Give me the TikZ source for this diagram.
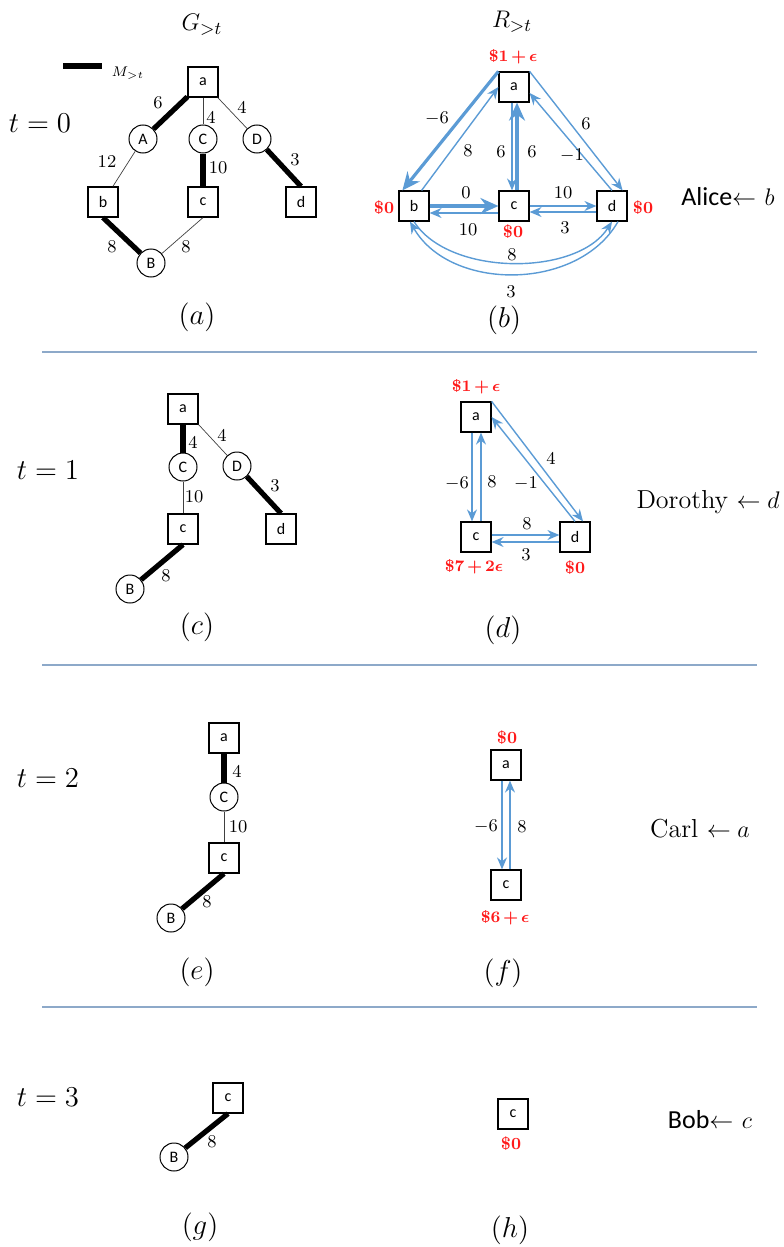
\documentclass[tikz,border=0pt]{standalone}
\usepackage{amsmath,amssymb}
\usepackage{fontspec}
\usepackage{xcolor}
\usepackage{tikz}
\usetikzlibrary{arrows.meta}
\newfontfamily\carlito{Carlito}
\definecolor{resblue}{HTML}{5B9BD5}
\definecolor{costred}{HTML}{FF1A1A}
\definecolor{rulecol}{HTML}{8DA9C9}
\newcommand{\tightplus}{\medmuskip=2.5mu\relax}
\tikzset{
  sq/.style={draw, line width=0.6pt, minimum size=15pt, inner sep=0pt, font=\carlito\fontsize{8}{9}\selectfont},
  cir/.style={circle, draw, line width=0.5pt, minimum size=14pt, inner sep=0pt, font=\carlito\fontsize{8}{9}\selectfont},
  edge/.style={draw=black!75, line width=0.35pt},
  match/.style={draw=black, line width=2.6pt},
  res/.style={draw=resblue, line width=0.7pt, -{Stealth[length=6pt,width=5pt,inset=2pt]}},
  resm/.style={draw=resblue, line width=1.6pt, -{Stealth[length=9pt,width=8pt,inset=3pt]}},
  lab/.style={font=\fontsize{9}{10}\selectfont},
  cost/.style={text=costred, font=\fontsize{8.5}{10}\selectfont\bfseries\boldmath\tightplus},
  tlab/.style={font=\fontsize{14}{16}\selectfont},
  head/.style={font=\fontsize{13}{15}\selectfont},
  sub/.style={font=\fontsize{14}{16}\selectfont},
  who/.style={font=\fontsize{13}{15}\selectfont},
  rulel/.style={draw=rulecol, line width=0.8pt},
}
\begin{document}
\begin{tikzpicture}[x=0.5pt,y=-0.5pt]
  \useasboundingbox (0,0) rectangle (783,1247);
  % headings and legend
  \node[head] (hG) at (202,25) {$G_{>t}$};
  \node[head] (hR) at (512,22) {$R_{>t}$};
  \coordinate (legL) at (63,66);
  \coordinate (legR) at (102,66);
  \draw[match, line width=3pt] (legL) -- (legR);
  \node[font=\fontsize{7}{8}\selectfont] (legM) at (128,73) {$M_{>t}$};
  \foreach \y/\n in {352/s1, 665/s2, 1007/s3} {
    \coordinate (\n L) at (42,\y);
    \coordinate (\n R) at (757,\y);
    \draw[rulel] (\n L) -- (\n R);
  }

  % t = 0
  \node[tlab] (t0) at (40,123) {$t=0$};
  \node[sq] (g0a) at (203,82) {a};
  \node[cir] (g0A) at (143,139) {A};
  \node[cir] (g0C) at (203,139) {C};
  \node[cir] (g0D) at (257,139) {D};
  \node[sq] (g0b) at (103,202) {b};
  \node[sq] (g0c) at (203,202) {c};
  \node[sq] (g0d) at (301,202) {d};
  \node[cir] (g0B) at (151,263) {B};
  \draw[match] (g0a) -- (g0A) node[lab] at (158,103) {6};
  \draw[edge] (g0a.south) -- (g0C) node[lab] at (211,117) {4};
  \draw[edge] (g0a) -- (g0D) node[lab] at (242,107) {4};
  \draw[edge] (g0A) -- (g0b) node[lab] at (107,162) {12};
  \draw[match] (g0C) -- (g0c) node[lab] at (218,168) {10};
  \draw[match] (g0D) -- (g0d.north) node[lab] at (295,160) {3};
  \draw[match] (g0b.south) -- (g0B) node[lab] at (112,247) {8};
  \draw[edge] (g0B) -- (g0c.south) node[lab] at (186,247) {8};
  \node[sub] (capa) at (197,317) {$(a)$};

  \node[sq] (r0a) at (514,87) {a};
  \node[sq] (r0b) at (414,206) {b};
  \node[sq] (r0c) at (514,206) {c};
  \node[sq] (r0d) at (612,206) {d};
  \node[cost] (p0a) at (513,57) {$\$1+\epsilon$};
  \node[cost] (p0b) at (384,208) {\$0};
  \node[cost] (p0c) at (513,232) {\$0};
  \node[cost] (p0d) at (643,208) {\$0};
  \draw[resm] (r0a.north west) -- ([xshift=2pt]r0b.north west) node[lab] at (437,119) {$-6$};
  \draw[res] ([xshift=-4pt]r0b.north east) -- (r0a.west) node[lab] at (468,151) {8};
  \draw[res] ([xshift=-1pt]r0a.south) -- ([xshift=-1pt]r0c.north) node[lab] at (501,152) {6};
  \draw[resm] ([xshift=1.5pt]r0c.north) -- ([xshift=1.5pt]r0a.south) node[lab] at (532,152) {6};
  \draw[res] (r0a.north east) -- ([xshift=-2.5pt]r0d.north east) node[lab] at (586,124) {6};
  \draw[res] (r0d.north) -- ([yshift=-3pt]r0a.east) node[lab] at (572,156) {$-1$};
  \draw[resm] (r0b.east) -- (r0c.west) node[lab] at (466,193) {0};
  \draw[res] ([yshift=-3.5pt]r0c.west) -- ([yshift=-3.5pt]r0b.east) node[lab] at (468,230) {10};
  \draw[res] (r0c.east) -- (r0d.west) node[lab] at (563,193) {10};
  \draw[res] ([yshift=-3pt]r0d.west) -- ([yshift=-3pt]r0c.east) node[lab] at (565,228) {3};
  \draw[res] (r0b.south) .. controls +(35,55) and +(-35,55) .. (r0d.south) node[lab] at (512,255) {8};
  \draw[res] ([xshift=3pt]r0d.south) .. controls +(-40,70) and +(40,70) .. ([xshift=-2pt]r0b.south) node[lab] at (511,292) {3};
  \node[sub] (capb) at (504,320) {$(b)$};
  \node[who] (who0) at (728,197) {{\carlito Alice}$\leftarrow$ $b$};

  % t = 1
  \node[tlab] (t1) at (48,470) {$t=1$};
  \node[sq] (g1a) at (183,409) {a};
  \node[cir] (g1C) at (183,467) {C};
  \node[cir] (g1D) at (237,466) {D};
  \node[sq] (g1c) at (183,529) {c};
  \node[sq] (g1d) at (281,529) {d};
  \node[cir] (g1B) at (130,589) {B};
  \draw[match] (g1a) -- (g1C) node[lab] at (193,442) {4};
  \draw[edge] (g1a.south east) -- (g1D) node[lab] at (222,435) {4};
  \draw[edge] (g1C) -- (g1c) node[lab] at (194,497) {10};
  \draw[match] (g1D) -- (g1d.north) node[lab] at (275,486) {3};
  \draw[match] (g1c.south) -- (g1B) node[lab] at (166,576) {8};
  \node[sub] (capc) at (197,627) {$(c)$};

  \node[sq] (r1a) at (476,417) {a};
  \node[sq] (r1c) at (476,537) {c};
  \node[sq] (r1d) at (575,537) {d};
  \node[cost] (p1a) at (476,387) {$\$1+\epsilon$};
  \node[cost] (p1c) at (474,567) {$\$7+2\epsilon$};
  \node[cost] (p1d) at (575,568) {\$0};
  \draw[res] ([xshift=-2pt]r1a.south) -- ([xshift=-2pt]r1c.north) node[lab] at (457,484) {$-6$};
  \draw[res] ([xshift=2.5pt]r1c.north) -- ([xshift=2.5pt]r1a.south) node[lab] at (492,482) {8};
  \draw[res] (r1a.north east) -- ([xshift=4pt]r1d.north) node[lab] at (551,458) {4};
  \draw[res] (r1d.north) -- (r1a.east) node[lab] at (526,484) {$-1$};
  \draw[res] ([yshift=1pt]r1c.east) -- ([yshift=1pt]r1d.west) node[lab] at (527,524) {8};
  \draw[res] ([yshift=-2.5pt]r1d.west) -- ([yshift=-2.5pt]r1c.east) node[lab] at (526,555) {3};
  \node[sub] (capd) at (503,630) {$(d)$};
  \node[who] (who1) at (708,502) {Dorothy $\leftarrow d$};

  % t = 2
  \node[tlab] (t2) at (48,778) {$t=2$};
  \node[sq] (g2a) at (224,738) {a};
  \node[cir] (g2C) at (224,797) {C};
  \node[sq] (g2c) at (224,858) {c};
  \node[cir] (g2B) at (171,918) {B};
  \draw[match] (g2a) -- (g2C) node[lab] at (237,771) {4};
  \draw[edge] (g2C) -- (g2c) node[lab] at (238,827) {10};
  \draw[match] (g2c.south) -- (g2B) node[lab] at (207,902) {8};
  \node[sub] (cape) at (197,972) {$(e)$};

  \node[sq] (r2a) at (506,765) {a};
  \node[sq] (r2c) at (506,885) {c};
  \node[cost] (p2a) at (507,738) {\$0};
  \node[cost] (p2c) at (505,918) {$\$6+\epsilon$};
  \draw[res] ([xshift=-2pt]r2a.south) -- ([xshift=-2pt]r2c.north) node[lab] at (486,827) {$-6$};
  \draw[res] ([xshift=2pt]r2c.north) -- ([xshift=2pt]r2a.south) node[lab] at (522,827) {8};
  \node[sub] (capf) at (503,973) {$(f)$};
  \node[who] (who2) at (700,829) {Carl $\leftarrow a$};

  % t = 3
  \node[tlab] (t3) at (48,1097) {$t=3$};
  \node[sq] (g3c) at (228,1098) {c};
  \node[cir] (g3B) at (174,1157) {B};
  \draw[match] (g3c.south) -- (g3B) node[lab] at (212,1142) {8};
  \node[sub] (capg) at (200,1227) {$(g)$};

  \node[sq] (r3c) at (513,1114) {c};
  \node[cost] (p3c) at (511,1144) {\$0};
  \node[sub] (caph) at (510,1230) {$(h)$};
  \node[who] (who3) at (710,1120) {{\carlito Bob}$\leftarrow$ $c$};
\end{tikzpicture}
\end{document}
